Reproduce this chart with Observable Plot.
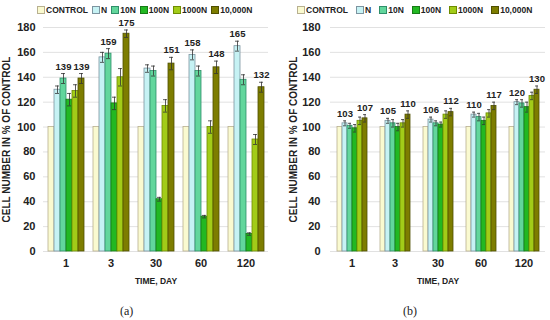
<!DOCTYPE html>
<html><head><meta charset="utf-8">
<script src="https://cdn.jsdelivr.net/npm/d3@7"></script>
<script src="https://cdn.jsdelivr.net/npm/@observablehq/plot@0.6"></script>
<style>
body{margin:0;background:#fff;font-family:"Liberation Sans",Arial,sans-serif;}
#wrap{position:relative;width:550px;height:320px;overflow:hidden;background:#fff}
.panel{position:absolute;top:0;width:275px;height:320px;}
.legend{position:absolute;top:5px;font-size:8.5px;font-weight:bold;white-space:nowrap;display:flex;align-items:center;color:#222}
.legend .sw{display:inline-block;width:6px;height:6px;border:1px solid;margin-right:1px;vertical-align:-1px}
.plot{position:absolute;top:18px;left:0}
.plot svg{overflow:visible}
.cap{position:absolute;top:304px;font-family:"Liberation Serif","DejaVu Serif",serif;font-size:12px;color:#222}
svg g[aria-label="y-axis tick label"], svg g[aria-label="fx-axis tick label"]{font-size:11px;font-weight:bold}
svg g[aria-label="y-axis label"]{font-size:10px;font-weight:bold}
svg g[aria-label="fx-axis label"]{font-size:8.5px;font-weight:bold}
</style></head><body>
<div id="wrap"></div>
<script>
const days = ["1", "3", "30", "60", "120"];
const series = ["CONTROL", "N", "10N", "100N", "1000N", "10,000N"];
const fills = ["#fafad0", "#c6f2f4", "#62d69c", "#22b822", "#a2cc18", "#7d7d00"];
const strokes = ["#b8b090", "#7c94a0", "#2f8f6a", "#167a16", "#6e8c00", "#4f4f00"];

// panel (a): rows = series, columns = days
const valuesA = [
  [100, 100, 100, 100, 100],
  [130, 156, 147, 158, 165],
  [139, 159, 145, 145, 138],
  [122, 119, 42, 28, 14],
  [129, 140, 117, 100, 90],
  [139, 175, 151, 148, 132]
];
const errorsA = [
  [0, 0, 0, 0, 0],
  [3, 4, 3, 4, 4],
  [4, 4, 4, 4, 4],
  [5, 5, 1.5, 1, 1],
  [5, 7, 5, 5, 4],
  [4, 3, 5, 5, 4]
];
const labelsA = [["10N", "10,000N"], ["10N", "10,000N"], ["10,000N"], ["N", "10,000N"], ["N", "10,000N"]];

// panel (b)
const valuesB = [
  [100, 100, 100, 100, 100],
  [103, 105, 106, 110, 120],
  [101, 103, 103, 108, 119],
  [99, 100, 102, 105, 116],
  [105, 103, 110, 111, 125],
  [107, 110, 112, 117, 130]
];
const errorsB = [
  [0, 0, 0, 0, 0],
  [2, 2, 2, 2, 2],
  [2, 3, 2, 3, 3],
  [3, 3, 2, 3, 4],
  [3, 3, 3, 3, 3],
  [3, 3, 3, 3, 3]
];
const labelsB = [["N", "10,000N"], ["N", "10,000N"], ["N", "10,000N"], ["N", "10,000N"], ["N", "10,000N"]];

const yTicks = [0, 20, 40, 60, 80, 100, 120, 140, 160, 180];
const yLabel = "CELL NUMBER IN % OF CONTROL";
const xLabel = "TIME, DAY";

function table(values, errors, labels) {
  const rows = [];
  series.forEach((s, i) => days.forEach((d, j) => {
    rows.push({day: d, series: s, value: values[i][j], err: errors[i][j], labeled: labels[j].includes(s)});
  }));
  return rows;
}

function makePlot(rows, ml, mr, tickPad, outer) {
  return Plot.plot({
    width: 275, height: 270,
    marginLeft: ml, marginRight: mr, marginTop: 9, marginBottom: 37,
    style: {fontFamily: "Liberation Sans, Arial, sans-serif", color: "#222", background: "transparent"},
    fx: {domain: days, padding: 0, label: null},
    x: {domain: series, paddingInner: 0, paddingOuter: outer, axis: null},
    y: {domain: [0, 180], label: null},
    color: {domain: series, range: fills},
    marks: [
      Plot.gridY(yTicks, {stroke: "#d9d9d9", strokeOpacity: 1, strokeWidth: 0.8}),
      Plot.axisY({ticks: yTicks, tickSize: 0, tickPadding: tickPad, label: yLabel, labelAnchor: "center", labelOffset: 41, labelArrow: "none"}),
      Plot.axisFx({anchor: "bottom", tickSize: 0, tickPadding: 8, label: xLabel, labelAnchor: "center", labelOffset: 32, labelArrow: "none"}),
      Plot.barY(rows, {fx: "day", x: "series", y: "value", fill: "series",
        stroke: d => strokes[series.indexOf(d.series)], strokeWidth: 0.8}),
      Plot.ruleX(rows.filter(d => d.err > 0), {fx: "day", x: "series", y1: d => d.value - d.err, y2: d => d.value + d.err, stroke: "#333", strokeWidth: 0.8}),
      Plot.tickY(rows.filter(d => d.err > 0), {fx: "day", x: "series", y: d => d.value + d.err, stroke: "#333", strokeWidth: 0.8, insetLeft: 1, insetRight: 1}),
      Plot.tickY(rows.filter(d => d.err > 0), {fx: "day", x: "series", y: d => d.value - d.err, stroke: "#333", strokeWidth: 0.8, insetLeft: 1, insetRight: 1}),
      Plot.text(rows.filter(d => d.labeled), {fx: "day", x: "series", y: d => d.value + d.err, text: d => String(d.value), dy: -7, fontWeight: "bold", fontSize: 9.5, fill: "#222"})
    ]
  });
}

function legend(left, gap) {
  const div = document.createElement("div");
  div.className = "legend";
  div.style.left = left + "px";
  div.style.gap = gap + "px";
  series.forEach((s, i) => {
    const item = document.createElement("span");
    const sw = document.createElement("span");
    sw.className = "sw";
    sw.style.background = fills[i];
    sw.style.borderColor = strokes[i];
    item.appendChild(sw);
    item.appendChild(document.createTextNode(s));
    div.appendChild(item);
  });
  return div;
}

const wrap = document.getElementById("wrap");
function panel(left, rows, ml, mr, tickPad, outer, legLeft, gap, cap, capLeft) {
  const p = document.createElement("div");
  p.className = "panel";
  p.style.left = left + "px";
  p.appendChild(legend(legLeft, gap));
  const plotDiv = document.createElement("div");
  plotDiv.className = "plot";
  plotDiv.appendChild(makePlot(rows, ml, mr, tickPad, outer));
  p.appendChild(plotDiv);
  const c = document.createElement("div");
  c.className = "cap";
  c.style.left = capLeft + "px";
  c.textContent = cap;
  p.appendChild(c);
  wrap.appendChild(p);
}
panel(0, table(valuesA, errorsA, labelsA), 43, 7, 8, 0.75, 37, 4, "(a)", 120);
panel(275, table(valuesB, errorsB, labelsB), 53, 4, 10, 0.85, 22, 8, "(b)", 128);
</script>
</body></html>
